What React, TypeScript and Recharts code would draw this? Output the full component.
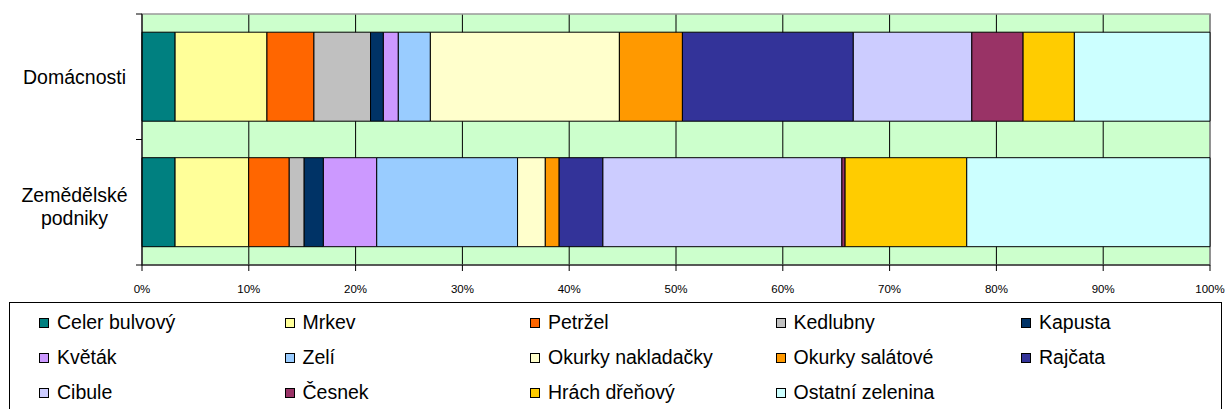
import React from "react";
import { BarChart, Bar, XAxis, YAxis, CartesianGrid, ReferenceArea } from "recharts";

const categories = ["Domácnosti", "Zemědělské podniky"];

const seriesNames = [
  "Celer bulvový",
  "Mrkev",
  "Petržel",
  "Kedlubny",
  "Kapusta",
  "Květák",
  "Zelí",
  "Okurky nakladačky",
  "Okurky salátové",
  "Rajčata",
  "Cibule",
  "Česnek",
  "Hrách dřeňový",
  "Ostatní zelenina",
];

const seriesColors = [
  "#008080",
  "#FFFF99",
  "#FF6600",
  "#C0C0C0",
  "#003366",
  "#CC99FF",
  "#99CCFF",
  "#FFFFCC",
  "#FF9900",
  "#333399",
  "#CCCCFF",
  "#993366",
  "#FFCC00",
  "#CCFFFF",
];

// shares in %
const domacnosti = [3.1, 8.6, 4.4, 5.3, 1.2, 1.4, 3.0, 17.7, 5.9, 16.0, 11.1, 4.8, 4.8, 12.7];
const podniky = [3.1, 6.9, 3.8, 1.4, 1.8, 5.0, 13.2, 2.6, 1.3, 4.1, 22.4, 0.3, 11.4, 22.8];

const xTicks = [0, 0.1, 0.2, 0.3, 0.4, 0.5, 0.6, 0.7, 0.8, 0.9, 1];

const FONT = "'Liberation Sans', Arial, sans-serif";

const data = categories.map((name, i) => {
  const vals = i === 0 ? domacnosti : podniky;
  // eslint-disable-next-line @typescript-eslint/no-explicit-any
  const row: any = { name };
  seriesNames.forEach((_, j) => {
    row["s" + j] = vals[j];
  });
  return row;
});

// eslint-disable-next-line @typescript-eslint/no-explicit-any
const CategoryTick = (props: any) => {
  const { x, y, payload } = props;
  const half = payload && payload.offset ? payload.offset : 62.75;
  const lines = String(payload.value).split(" ");
  const cx = x - 67.5;
  return (
    <g>
      <line x1={x - 6} x2={x} y1={y - half} y2={y - half} stroke="#000" />
      <line x1={x - 6} x2={x} y1={y + half} y2={y + half} stroke="#000" />
      <text
        x={cx}
        y={y}
        textAnchor="middle"
        fontSize={19.5}
        fill="#000"
        fontFamily={FONT}
      >
        {lines.length === 1 ? (
          <tspan x={cx} dy={7}>
            {lines[0]}
          </tspan>
        ) : (
          lines.map((l, k) => (
            <tspan key={k} x={cx} dy={k === 0 ? 0 : 23}>
              {l}
            </tspan>
          ))
        )}
      </text>
    </g>
  );
};

const App: React.FC = () => {
  return (
    <div
      style={{
        position: "absolute",
        left: 0,
        top: 0,
        width: 1226,
        height: 409,
        overflow: "hidden",
        background: "#fff",
        fontFamily: FONT,
      }}
    >
      <BarChart
        width={1226}
        height={409}
        data={data}
        layout="vertical"
        stackOffset="expand"
        barCategoryGap="14.5%"
        margin={{ top: 14, right: 16, left: 22, bottom: 114 }}
      >
        <CartesianGrid horizontal={false} stroke="#000" fill="#CCFFCC" fillOpacity={1} />
        <ReferenceArea x1={0} x2={1} fill="none" stroke="#999" strokeWidth={1.5} />
        <XAxis
          type="number"
          domain={[0, 1]}
          ticks={xTicks}
          tickFormatter={(v: number) => Math.round(v * 100) + "%"}
          height={30}
          tickSize={6}
          tickMargin={14}
          axisLine={{ stroke: "#000" }}
          tickLine={{ stroke: "#000" }}
          tick={{ fontSize: 11.5, fill: "#000", fontFamily: FONT }}
          interval={0}
        />
        <YAxis
          type="category"
          dataKey="name"
          width={120}
          tickLine={false}
          tickSize={0}
          tickMargin={0}
          axisLine={{ stroke: "#000" }}
          tick={<CategoryTick />}
          interval={0}
        />
        {seriesNames.map((n, j) => (
          <Bar
            key={n}
            dataKey={"s" + j}
            name={n}
            stackId="a"
            fill={seriesColors[j]}
            stroke="#000"
            strokeWidth={1}
            isAnimationActive={false}
          />
        ))}
      </BarChart>
      <div
        style={{
          position: "absolute",
          left: 9,
          top: 302,
          width: 1213,
          height: 130,
          border: "1px solid #000",
          boxSizing: "border-box",
          paddingLeft: 29,
          paddingTop: 2,
          display: "grid",
          gridTemplateColumns: "repeat(5, 245.5px)",
          gridAutoRows: "35px",
          fontSize: 19.5,
          color: "#000",
        }}
      >
        {seriesNames.map((n, j) => (
          <div key={n} style={{ display: "flex", alignItems: "center", whiteSpace: "nowrap" }}>
            <span
              style={{
                display: "inline-block",
                width: 10,
                height: 10,
                boxSizing: "border-box",
                border: "1px solid #000",
                background: seriesColors[j],
                marginRight: 8,
              }}
            />
            <span>{n}</span>
          </div>
        ))}
      </div>
    </div>
  );
};

export default App;
